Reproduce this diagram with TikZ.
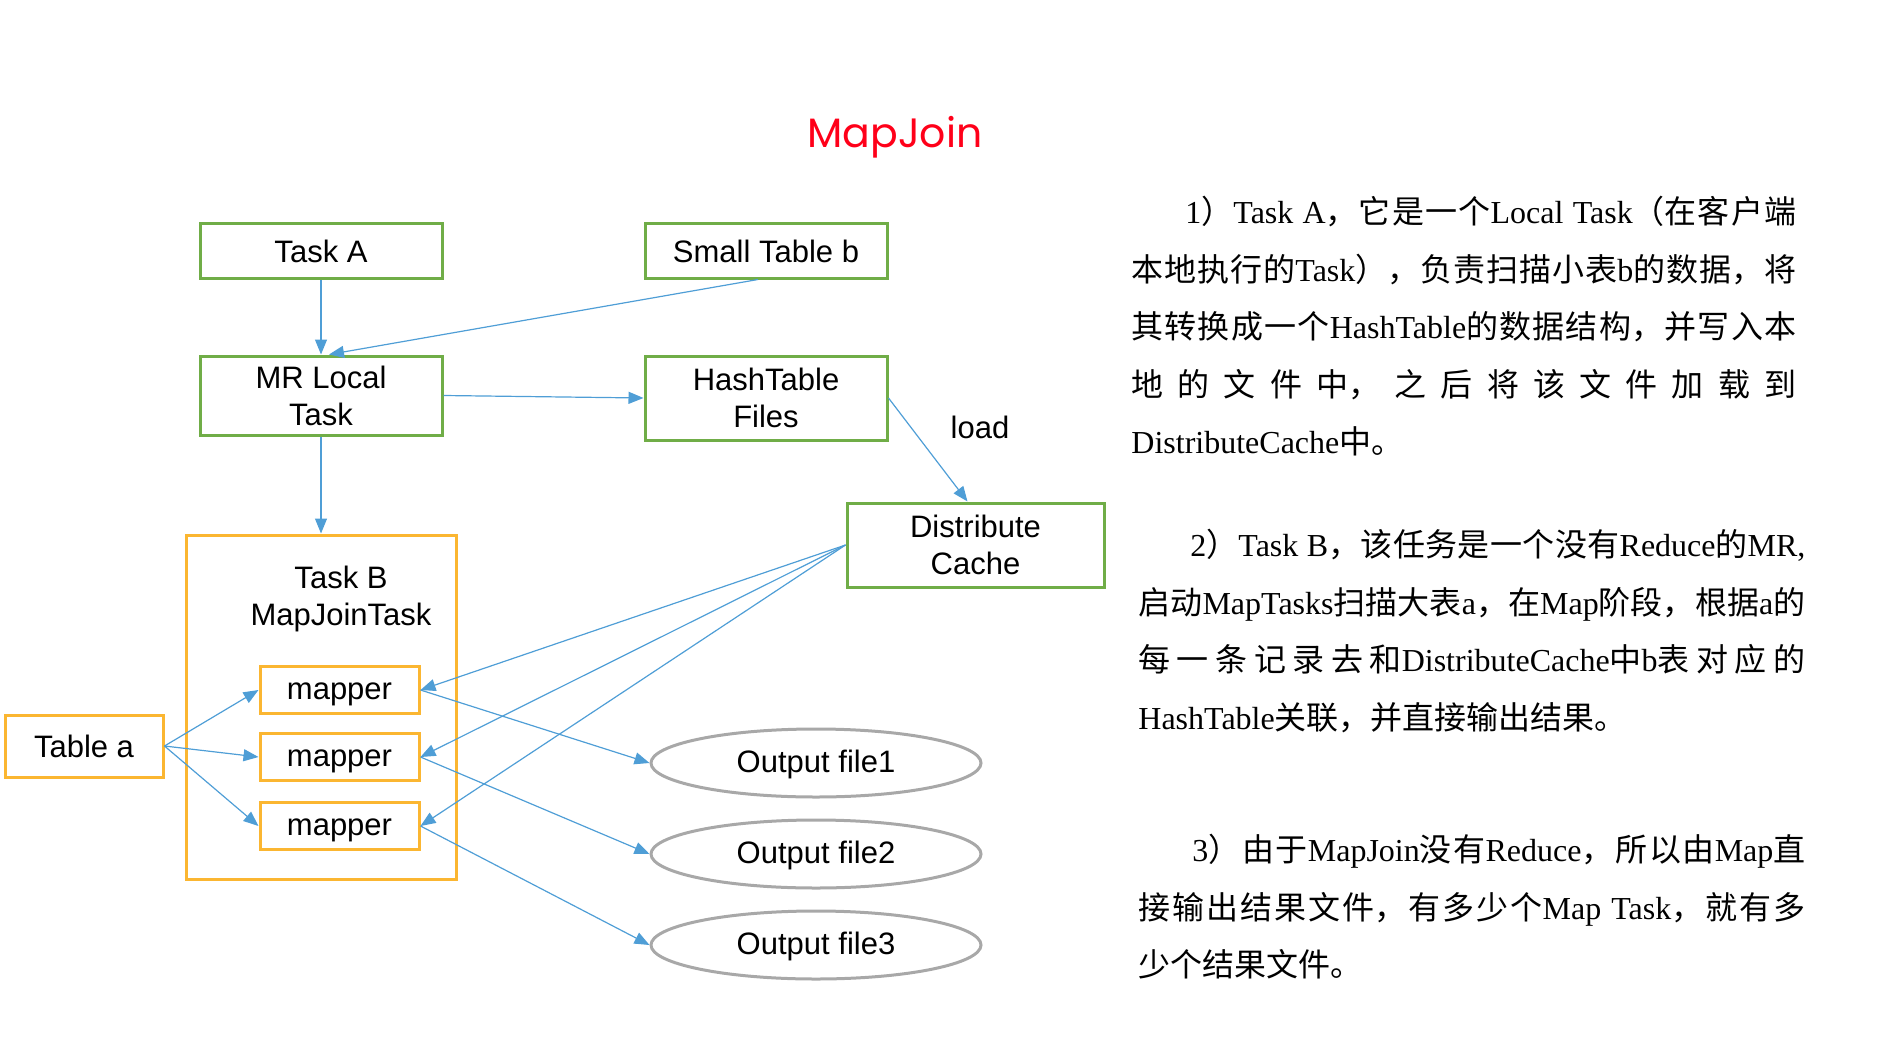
\documentclass[tikz,border=0pt]{standalone}
\usepackage{fontspec}
\setmainfont{Liberation Serif}
\setsansfont{Liberation Sans}
\newfontfamily\cjk{Noto Sans CJK SC}
\newfontfamily\titlefont{Poppins}
\usetikzlibrary{shapes.geometric,arrows.meta}
\definecolor{boxgreen}{RGB}{112,173,71}
\definecolor{boxorange}{RGB}{251,182,49}
\definecolor{arrowblue}{RGB}{79,158,214}
\definecolor{ovalgray}{RGB}{168,168,168}
\definecolor{titlered}{RGB}{255,0,25}
\newcommand{\zh}[1]{{\cjk #1}}
\XeTeXlinebreaklocale "zh"
\XeTeXlinebreakskip=0pt plus 2pt minus 0.3pt
\tolerance=10000
\hbadness=10000
\begin{document}
\begin{tikzpicture}[x=0.5pt, y=-0.5pt,
  lbl/.style={font=\sffamily\fontsize{15.5}{18.5}\selectfont, align=center, inner sep=0pt},
  oneline/.style={text height=12.5pt, text depth=3pt},
  greenbox/.style={lbl, draw=boxgreen, line width=1.5pt, minimum width=121pt},
  orangebox/.style={lbl, draw=boxorange, line width=1.5pt},
  outfile/.style={lbl, oneline, ellipse, draw=ovalgray, line width=1.5pt,
    minimum width=165pt, minimum height=34pt},
  conn/.style={draw=arrowblue, line width=0.6pt,
    -{Triangle[length=7.5pt, width=6pt]}},
  para/.style={anchor=north west, inner sep=0pt, align=justify,
    font=\fontsize{16}{28.75}\selectfont}]
  \useasboundingbox (0,0) rectangle (1877,1048);
  \node[font=\titlefont\fontsize{20.5}{24}\selectfont, text=titlered] (title) at (895,137) {MapJoin};
  \node[greenbox, minimum height=27pt] (taska) at (321,251) {Task A};
  \node[greenbox, minimum height=27pt] (smallb) at (766,251) {Small Table b};
  \node[greenbox, minimum height=39.5pt] (mrlocal) at (321,395.5) {MR Local\\Task};
  \node[greenbox, minimum height=42pt] (hashfiles) at (766,398) {HashTable\\Files};
  \node[greenbox, minimum width=128.5pt, minimum height=42pt] (dcache) at (975.5,545) {Distribute\\Cache};
  \node[lbl] (load) at (980,427) {load};
  \node[orangebox, minimum width=135pt, minimum height=172pt] (taskb) at (321,707) {};
  \node[lbl] (taskbname) at (341,599) {Task B\\MapJoinTask};
  \node[orangebox, minimum width=79pt, minimum height=31pt] (tablea) at (84,746) {Table a};
  \node[orangebox, oneline, minimum width=79.5pt, minimum height=23.5pt] (mapper1) at (339.5,690) {mapper};
  \node[orangebox, oneline, minimum width=79.5pt, minimum height=23.5pt] (mapper2) at (339.5,757) {mapper};
  \node[orangebox, oneline, minimum width=79.5pt, minimum height=23.5pt] (mapper3) at (339.5,826) {mapper};
  \node[outfile] (out1) at (816,763) {Output file1};
  \node[outfile] (out2) at (816,854) {Output file2};
  \node[outfile] (out3) at (816,945) {Output file3};

  \draw[conn] (taska) -- (mrlocal);
  \draw[conn] ([xshift=-4pt]smallb.south) -- ([xshift=4pt]mrlocal.north);
  \draw[conn] (mrlocal.east) -- (hashfiles.west);
  \draw[conn] (hashfiles.east) -- ([xshift=-4pt]dcache.north);
  \draw[conn] (mrlocal.south) -- (taskb.north);
  \foreach \i in {1,2,3} {
    \draw[conn] (dcache.west) -- (mapper\i.east);
    \draw[conn] (tablea.east) -- (mapper\i.west);
    \draw[conn] (mapper\i.east) -- (out\i.west);
  }

  \node[para, text width=332.5pt] (note1) at (1131,196) {\hspace*{27pt}1\zh{）}Task A\zh{，它是一个}Local Task\zh{（在客户端}\linebreak
    \zh{本地执行的}Task\zh{），负责扫描小表}b\zh{的数据，将}\linebreak
    \zh{其转换成一个}HashTable\zh{的数据结构，并写入本}\linebreak
    \zh{地的文件中，之后将该文件加载到}\linebreak
    DistributeCache\zh{中。}};
  \node[para, text width=333.5pt] (note2) at (1138,529) {\hspace*{26pt}2\zh{）}Task B\zh{，该任务是一个没有}Reduce\zh{的}MR,\linebreak
    \zh{启动}MapTasks\zh{扫描大表}a\zh{，在}Map\zh{阶段，根据}a\zh{的}\linebreak
    \zh{每一条记录去和}DistributeCache\zh{中}b\zh{表对应的}\linebreak
    HashTable\zh{关联，并直接输出结果。}};
  \node[para, text width=333.5pt] (note3) at (1138,834) {\hspace*{27pt}3\zh{）由于}MapJoin\zh{没有}Reduce\zh{，所以由}Map\zh{直}\linebreak
    \zh{接输出结果文件，有多少个}Map Task\zh{，就有多}\linebreak
    \zh{少个结果文件。}};
\end{tikzpicture}
\end{document}
